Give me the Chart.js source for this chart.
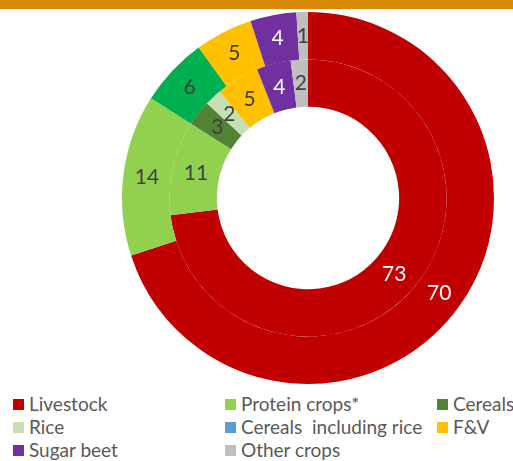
<!DOCTYPE html>
<html>
<head>
<meta charset="utf-8">
<script src="https://cdn.jsdelivr.net/npm/chart.js@4.4.1/dist/chart.umd.min.js"></script>
<style>
  body { margin: 0; width: 513px; height: 461px; background: #fff; position: relative; overflow: hidden; font-family: Lato, sans-serif; }
  .topbar { position: absolute; left: 0; top: 0; width: 513px; height: 9px; background: #d68a05; }
  .wrap { position: absolute; left: 0; top: 0; width: 513px; height: 390px; }
  .legend { position: absolute; left: 13px; top: 394px; width: 500px; display: grid; grid-template-columns: 212px 212px 80px; row-gap: 3px; }
  .legend div { font-size: 19px; line-height: 20px; color: #595959; white-space: pre; display: flex; align-items: center; }
  .legend span { display: inline-block; width: 11px; height: 11px; margin-right: 5px; }
</style>
</head>
<body>
<div class="topbar"></div>
<div class="wrap"><canvas id="donutChart"></canvas></div>
<div class="legend" id="legend"></div>
<script>
// categories shared by both rings (0 = not present in that ring)
const categories = ["Livestock", "Protein crops*", "Cereals", "Rice", "Cereals  including rice", "F&V", "Sugar beet", "Other crops"];
const outerValues = [70, 14, 0, 0, 6, 5, 4, 1];
const innerValues = [73, 11, 3, 2, 0, 5, 4, 2];

const legendColors = ["#c00000", "#92d050", "#548235", "#c5e0b4", "#5b9bd5", "#ffc000", "#7030a0", "#bfbfbf"];
const outerColors  = ["#c00000", "#92d050", "#548235", "#c5e0b4", "#00b050", "#ffc000", "#7030a0", "#bfbfbf"];
const innerColors  = legendColors;
// white numbers on the dark slices, grey on the rest
const labelColors  = ["#ffffff", "#404040", "#404040", "#404040", "#404040", "#404040", "#ffffff", "#404040"];

// html legend, three columns
const legendEl = document.getElementById("legend");
categories.forEach((name, i) => {
    const item = document.createElement("div");
    item.innerHTML = `<span style="background:${legendColors[i]}"></span>`;
    item.appendChild(document.createTextNode(name));
    legendEl.appendChild(item);
});

// value labels in the middle of every slice
const sliceLabels = {
    id: "sliceLabels",
    afterDatasetsDraw(chart) {
        const ctx = chart.ctx;
        ctx.save();
        ctx.font = "21px Lato, sans-serif";
        ctx.textAlign = "center";
        ctx.textBaseline = "middle";
        chart.data.datasets.forEach((ds, d) => {
            chart.getDatasetMeta(d).data.forEach((arc, i) => {
                if (!ds.data[i]) return;
                const p = arc.tooltipPosition();
                ctx.fillStyle = labelColors[i];
                ctx.fillText(ds.data[i], p.x, p.y);
            });
        });
        ctx.restore();
    }
};

new Chart(document.getElementById("donutChart").getContext("2d"), {
    type: "doughnut",
    data: {
        labels: categories,
        datasets: [
            { data: outerValues, backgroundColor: outerColors, borderWidth: 0, offset: 0, hoverOffset: 0 },
            { data: innerValues, backgroundColor: innerColors, borderWidth: 0, offset: 0, hoverOffset: 0 }
        ]
    },
    options: {
        responsive: true,
        maintainAspectRatio: false,
        animation: false,
        cutout: "49%",
        layout: { padding: { left: 122, right: 19, top: 12, bottom: 6 } },
        plugins: { legend: { display: false }, tooltip: { enabled: false } }
    },
    plugins: [sliceLabels]
});
</script>
</body>
</html>
